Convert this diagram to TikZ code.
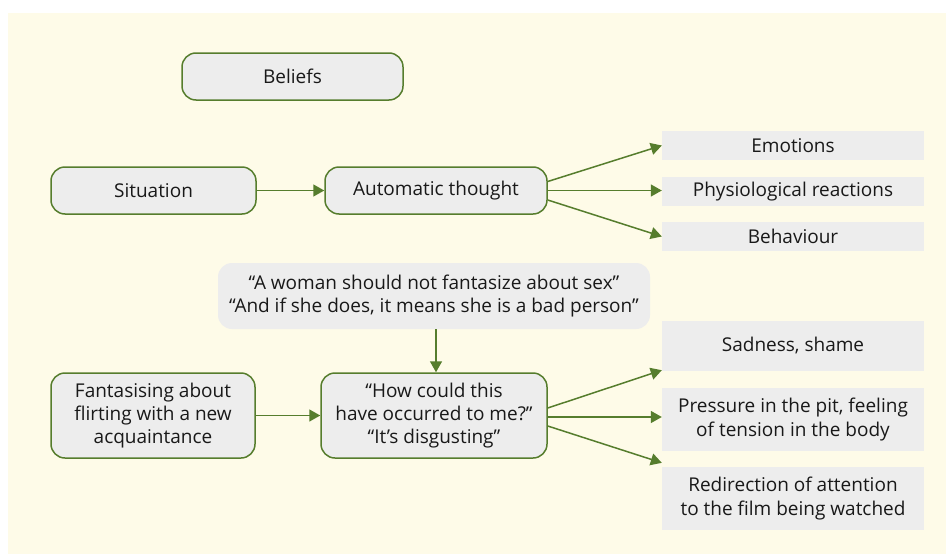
\documentclass[tikz,border=0pt]{standalone}
\usepackage{fontspec}
\setmainfont{Open Sans}
\usetikzlibrary{arrows.meta}
\definecolor{bgyellow}{RGB}{254,251,232}
\definecolor{boxgray}{RGB}{237,237,237}
\definecolor{leafgreen}{RGB}{86,125,45}
\tikzset{
  cbtbox/.style={draw=leafgreen, line width=1.5pt, fill=boxgray, rounded corners=14pt,
    align=center, inner sep=0pt, text=black!90, font=\fontsize{19}{23.3}\selectfont},
  quotebox/.style={fill=boxgray, rounded corners=14pt, align=center, inner sep=0pt,
    text=black!90, font=\fontsize{19}{23.3}\selectfont},
  outbox/.style={fill=boxgray, align=center, inner sep=0pt, minimum width=262pt,
    text=black!90, font=\fontsize{19}{23.3}\selectfont},
  arr/.style={leafgreen, line width=1.5pt, -{Triangle[length=11pt,width=12pt]}}
}
\begin{document}
\begin{tikzpicture}[x=1pt,y=-1pt]
		\useasboundingbox (0,0) rectangle (947,554);
		% background
		\fill[bgyellow] (8,13) rectangle (946,554);
		
		% model
		\node[cbtbox, minimum width=221pt, minimum height=47pt] (beliefs) at (292.5,76.5) {Beliefs};
		\node[cbtbox, minimum width=205pt, minimum height=47pt] (situation) at (153.5,190.5) {Situation};
		\node[cbtbox, minimum width=222pt, minimum height=47pt] (autothought) at (436,190.5) {Automatic thought};
		
		\node[outbox, minimum height=29pt] (emotions) at (793,145.5) {Emotions};
		\node[outbox, minimum height=29pt] (physio) at (793,191.5) {Physiological reactions};
		\node[outbox, minimum height=29pt] (behaviour) at (793,236.5) {Behaviour};
		
		\draw[arr] (situation) -- (autothought);
		\draw[arr] ([yshift=9pt]autothought.east) -- (emotions.west);
		\draw[arr] (autothought.east) -- (autothought.east -| physio.west);
		\draw[arr] ([yshift=-9.5pt]autothought.east) -- (behaviour.west);
		
		% example
		\node[quotebox, minimum width=432pt, minimum height=66pt] (belief) at (434,296)
		{“A woman should not fantasize about sex”\\“And if she does, it means she is a bad person”};
		\node[cbtbox, minimum width=204pt, minimum height=85pt] (fantasy) at (153,415.5)
		{Fantasising about\\flirting with a new\\acquaintance};
		\node[cbtbox, minimum width=226pt, minimum height=85pt] (howcould) at (434,415.5)
		{“How could this\\have occurred to me?”\\“It’s disgusting”};
		
		\node[outbox, minimum height=50pt] (sadness) at (793,346) {Sadness, shame};
		\node[outbox, minimum height=63pt] (pressure) at (793,419.5) {Pressure in the pit, feeling\\of tension in the body};
		\node[outbox, minimum height=63pt] (redirect) at (793,498.5) {Redirection of attention\\to the film being watched};
		
		\draw[arr] ([xshift=2pt]belief.south) -- ([xshift=2pt]howcould.north);
		\draw[arr] (fantasy) -- (howcould);
		\draw[arr] ([yshift=7.5pt]howcould.east) -- ([yshift=1pt]sadness.south west);
		\draw[arr] ([yshift=-1.5pt]howcould.east) -- ([yshift=-1.5pt]howcould.east -| pressure.west);
		\draw[arr] ([yshift=-10.5pt]howcould.east) -- ([yshift=4pt]redirect.north west);
		
	\end{tikzpicture}
\end{document}
